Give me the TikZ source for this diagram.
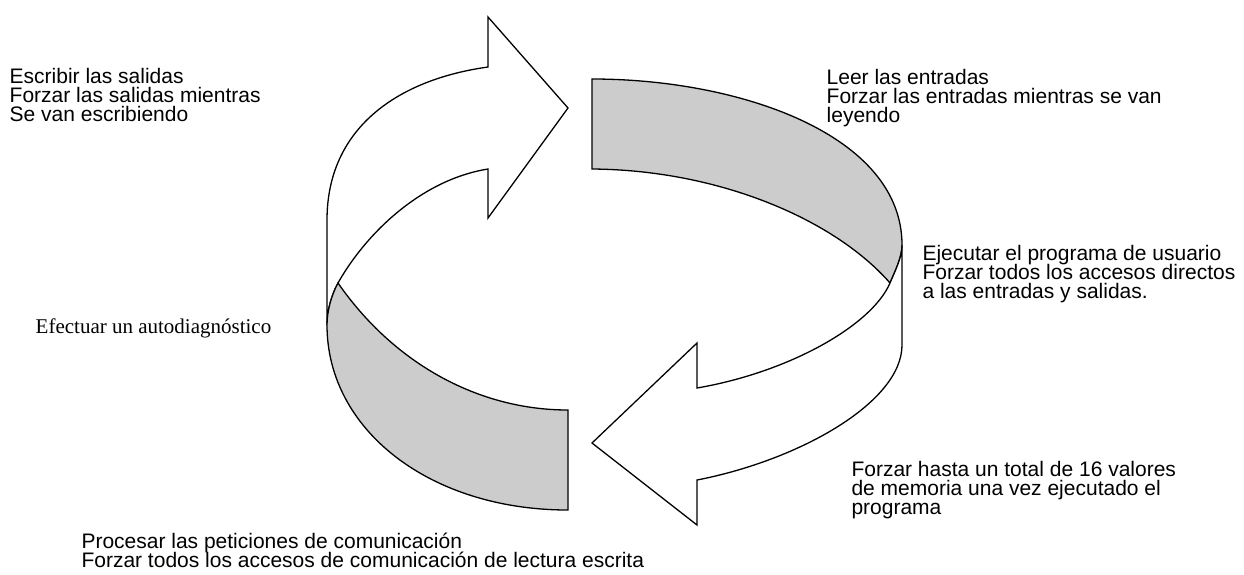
\documentclass[tikz,border=0pt]{standalone}
\usepackage{fontspec}
\setmainfont{Liberation Sans}
\newfontfamily\timesfont{Liberation Serif}
\definecolor{bandgray}{gray}{0.8}
\newcommand\firstln{\rule{0pt}{20pt}}
\setlength{\lineskiplimit}{-100pt}
\tikzset{
  ribbon/.style={draw=black, line width=1.3pt, line join=miter},
  frontface/.style={ribbon, fill=white},
  backface/.style={ribbon, fill=bandgray},
  txtblock/.style={anchor=north west, inner sep=0pt, align=left,
    font=\fontsize{21}{19}\selectfont},
}
\begin{document}
\begin{tikzpicture}[x=1pt,y=-1pt]
\useasboundingbox (0,0) rectangle (1244,574);
% top-left white arrow
\filldraw[frontface] (327,325) -- (327,220)
  .. controls (327,130) and (395,80) .. (488,67)
  -- (488,17) -- (568,108) -- (488,218) -- (488,169)
  .. controls (420,180) and (365,235) .. (338,283)
  .. controls (332,294) and (327,310) .. (327,325) -- cycle;
% bottom-left gray band
\filldraw[backface] (338,283)
  .. controls (332,294) and (327,310) .. (327,325)
  .. controls (327,430) and (430,510) .. (568,510)
  -- (568,410)
  .. controls (480,410) and (395,365) .. (338,283) -- cycle;
% top-right gray band
\filldraw[backface] (592,79)
  .. controls (740,79) and (902,135) .. (902,245)
  .. controls (902,257) and (896,269) .. (890,283)
  .. controls (835,220) and (720,170) .. (592,169) -- cycle;
% bottom-right white arrow
\filldraw[frontface] (902,245) -- (902,345)
  .. controls (902,402) and (800,460) .. (697,480)
  -- (697,525) -- (592,443) -- (697,343) -- (697,388)
  .. controls (790,372) and (872,325) .. (890,283)
  .. controls (896,269) and (902,257) .. (902,245) -- cycle;
% texts
\node[txtblock] (salidas) at (9.5,63) {\firstln Escribir las salidas\\Forzar las salidas mientras\\Se van escribiendo};
\node[txtblock] (entradas) at (826.5,64) {\firstln Leer las entradas\\Forzar las entradas mientras se van\\leyendo};
\node[txtblock] (ejecutar) at (922.3,240) {\firstln Ejecutar el programa de usuario\\Forzar todos los accesos directos\\a las entradas y salidas.};
\node[txtblock, font=\timesfont\fontsize{21}{19}\selectfont] (autodiag) at (35.5,313) {\firstln Efectuar un autodiagnóstico};
\node[txtblock] (memoria) at (851.3,456) {\firstln Forzar hasta un total de 16 valores\\de memoria una vez ejecutado el\\programa};
\node[txtblock] (comunic) at (81.3,528) {\firstln Procesar las peticiones de comunicación\\Forzar todos los accesos de comunicación de lectura escrita};
\end{tikzpicture}
\end{document}
